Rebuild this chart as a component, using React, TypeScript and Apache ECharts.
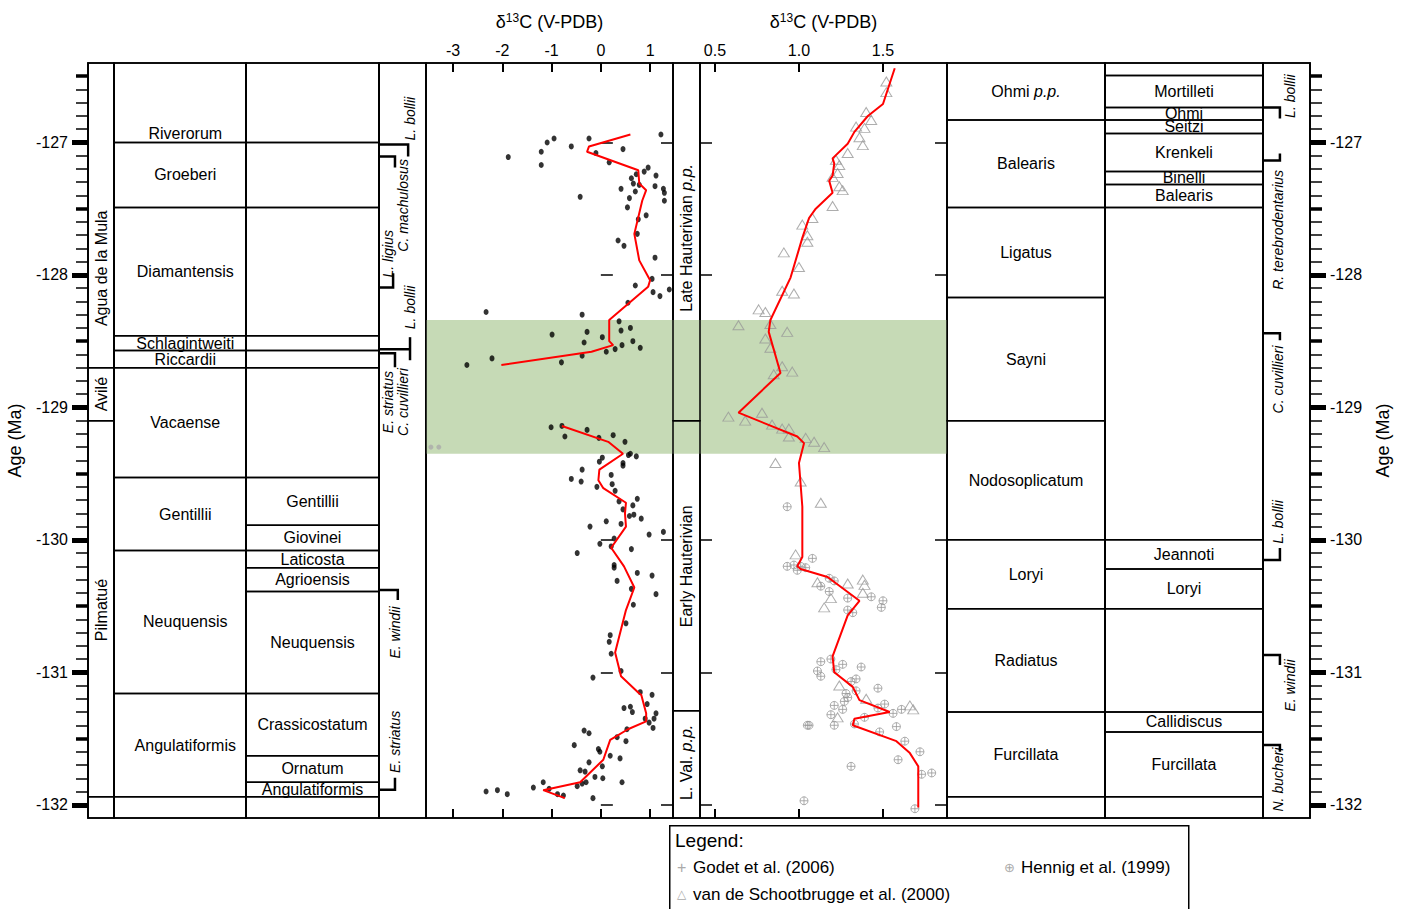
import { useEffect, useRef } from "react";
import * as echarts from "echarts";

const AGE_MIN = -132.1;
const AGE_MAX = -126.4;
const FONT = "Liberation Sans, Arial, sans-serif";

// columns: [left px, right px]
const COLS: Record<string, [number, number]> = {
  A: [88, 114],
  B: [114, 246],
  C: [246, 379],
  D: [379, 426],
  P1: [426, 673],
  S: [673, 700],
  P2: [700, 947],
  E: [947, 1105],
  F: [1105, 1263],
  G: [1263, 1310]
};
const COL_KEYS = ["A", "B", "C", "D", "P1", "S", "P2", "E", "F", "G"];

const ageTicks = [-132, -131, -130, -129, -128, -127];
const halfAgeTicks = [-131.5, -130.5, -129.5, -128.5, -127.5, -126.5];
const d13cTicks1 = [-3, -2, -1, 0, 1];
const d13cTicks2 = [0.5, 1.0, 1.5];
const greenBand: [number, number] = [-128.34, -129.35];

type Box = { top: number; bottom: number; label?: string; labelAge?: number; rotate?: boolean };

const formations: Box[] = [
  { top: -126.4, bottom: -128.7, label: "Agua de la Mula", labelAge: -127.95, rotate: true },
  { top: -128.7, bottom: -129.1, label: "Avilé", rotate: true },
  { top: -129.1, bottom: -131.94, label: "Pilmatué", labelAge: -130.53, rotate: true },
  { top: -131.94, bottom: -132.1 }
];
const zonesLeft: Box[] = [
  { top: -126.4, bottom: -127.0, label: "Riverorum", labelAge: -126.93 },
  { top: -127.0, bottom: -127.49, label: "Groeberi" },
  { top: -127.49, bottom: -128.46, label: "Diamantensis" },
  { top: -128.46, bottom: -128.57, label: "Schlagintweiti" },
  { top: -128.57, bottom: -128.7, label: "Riccardii" },
  { top: -128.7, bottom: -129.53, label: "Vacaense" },
  { top: -129.53, bottom: -130.08, label: "Gentillii" },
  { top: -130.08, bottom: -131.16, label: "Neuquensis" },
  { top: -131.16, bottom: -131.94, label: "Angulatiformis" },
  { top: -131.94, bottom: -132.1 }
];
const subzonesLeft: Box[] = [
  { top: -126.4, bottom: -127.0 },
  { top: -127.0, bottom: -127.49 },
  { top: -127.49, bottom: -128.46 },
  { top: -128.46, bottom: -128.57 },
  { top: -128.57, bottom: -128.7 },
  { top: -128.7, bottom: -129.53 },
  { top: -129.53, bottom: -129.89, label: "Gentillii" },
  { top: -129.89, bottom: -130.08, label: "Giovinei" },
  { top: -130.08, bottom: -130.21, label: "Laticosta" },
  { top: -130.21, bottom: -130.39, label: "Agrioensis" },
  { top: -130.39, bottom: -131.16, label: "Neuquensis" },
  { top: -131.16, bottom: -131.63, label: "Crassicostatum" },
  { top: -131.63, bottom: -131.83, label: "Ornatum" },
  { top: -131.83, bottom: -131.94, label: "Angulatiformis" },
  { top: -131.94, bottom: -132.1 }
];
const stages: Box[] = [
  { top: -126.4, bottom: -129.1, label: "Late Hauterivian {i|p.p.}", labelAge: -127.72, rotate: true },
  { top: -129.1, bottom: -131.29, label: "Early Hauterivian", labelAge: -130.2, rotate: true },
  { top: -131.29, bottom: -132.1, label: "L. Val. {i|p.p.}", labelAge: -131.68, rotate: true }
];
const zonesRight: Box[] = [
  { top: -126.4, bottom: -126.83, label: "Ohmi {i|p.p.}" },
  { top: -126.83, bottom: -127.49, label: "Balearis" },
  { top: -127.49, bottom: -128.17, label: "Ligatus" },
  { top: -128.17, bottom: -129.1, label: "Sayni" },
  { top: -129.1, bottom: -130.0, label: "Nodosoplicatum" },
  { top: -130.0, bottom: -130.52, label: "Loryi" },
  { top: -130.52, bottom: -131.3, label: "Radiatus" },
  { top: -131.3, bottom: -131.94, label: "Furcillata" },
  { top: -131.94, bottom: -132.1 }
];
const subzonesRight: Box[] = [
  { top: -126.4, bottom: -126.495 },
  { top: -126.495, bottom: -126.736, label: "Mortilleti" },
  { top: -126.736, bottom: -126.83, label: "Ohmi" },
  { top: -126.83, bottom: -126.932, label: "Seitzi" },
  { top: -126.932, bottom: -127.219, label: "Krenkeli" },
  { top: -127.219, bottom: -127.317, label: "Binelli" },
  { top: -127.317, bottom: -127.49, label: "Balearis" },
  { top: -127.49, bottom: -130.0 },
  { top: -130.0, bottom: -130.22, label: "Jeannoti" },
  { top: -130.22, bottom: -130.52, label: "Loryi" },
  { top: -130.52, bottom: -131.3 },
  { top: -131.3, bottom: -131.45, label: "Callidiscus" },
  { top: -131.45, bottom: -131.94, label: "Furcillata" },
  { top: -131.94, bottom: -132.1 }
];
const emptyColD: Box[] = [{ top: -126.4, bottom: -132.1 }];

// [text, xFrac, age]
const ammoniteLabels: [string, number, number][] = [
  ["L. bollii", 0.66, -126.82],
  ["C. machulosus", 0.51, -127.475],
  ["L. ligius", 0.19, -127.84],
  ["L. bollii", 0.66, -128.245],
  ["E. striatus", 0.19, -128.96],
  ["C. cuvillieri", 0.51, -128.96],
  ["E. windii", 0.34, -130.7],
  ["E. striatus", 0.34, -131.525]
];
const ammoniteBrackets: [number, number][][] = [
  [[0, -127.015], [0.62, -127.015], [0.62, -127.106]],
  [[0, -127.106], [0.34, -127.106], [0.34, -127.189]],
  [[0.3, -127.988], [0.3, -128.094], [0, -128.094]],
  [[0, -128.561], [0.66, -128.561]],
  [[0.66, -128.47], [0.66, -128.644]],
  [[0, -128.591], [0.34, -128.591], [0.34, -128.697]],
  [[0, -130.379], [0.4, -130.379], [0.4, -130.454]],
  [[0.34, -131.796], [0.34, -131.887], [0, -131.887]]
];
const nannoLabels: [string, number, number][] = [
  ["L. bollii", 0.57, -126.65],
  ["R. terebrodentarius", 0.32, -127.66],
  ["C. cuvillieri", 0.32, -128.79],
  ["L. bollii", 0.32, -129.865],
  ["E. windii", 0.57, -131.1],
  ["N. bucheri", 0.32, -131.81]
];
const nannoBrackets: [number, number][][] = [
  [[0, -126.736], [0.36, -126.736], [0.36, -126.819]],
  [[0.36, -127.083], [0.36, -127.136], [0, -127.136]],
  [[0, -128.44], [0.36, -128.44], [0.36, -128.493]],
  [[0.36, -130.062], [0.36, -130.152], [0, -130.152]],
  [[0, -130.869], [0.36, -130.869], [0.36, -130.944]],
  [[0, -131.548], [0.36, -131.548], [0.36, -131.6]]
];

// δ13C bulk carbonate [δ13C, age]
const bulkPoints: [number, number][] = [
  [1.22, -126.94], [-0.24, -126.97], [-0.95, -126.97], [-1.09, -127.0], [-0.6, -127.03], [0.45, -127.05],
  [-1.21, -127.07], [-0.1, -127.08], [-1.88, -127.11], [0.17, -127.15], [-1.21, -127.17], [0.96, -127.19],
  [0.88, -127.22], [0.72, -127.24], [1.12, -127.25], [0.62, -127.27], [0.66, -127.31], [0.78, -127.32],
  [1.1, -127.33], [1.27, -127.35], [0.41, -127.35], [0.7, -127.37], [1.29, -127.38], [-0.42, -127.41],
  [0.58, -127.42], [1.29, -127.44], [0.54, -127.49], [0.92, -127.55], [0.76, -127.58], [0.74, -127.69],
  [0.35, -127.74], [0.47, -127.78], [1.1, -127.87], [1.04, -128.03], [0.7, -128.08], [1.39, -128.11],
  [1.06, -128.13], [1.2, -128.16], [0.55, -128.21], [-2.33, -128.28], [-0.38, -128.3], [0.37, -128.35],
  [0.41, -128.42], [0.6, -128.4], [-0.99, -128.45], [-0.28, -128.43], [0.03, -128.47], [-0.34, -128.51],
  [0.65, -128.5], [0.43, -128.53], [0.8, -128.55], [0.29, -128.56], [0.11, -128.58], [-2.21, -128.63],
  [-0.38, -128.61], [-2.72, -128.68], [-0.8, -128.66],
  [-1.01, -129.15], [-0.79, -129.14], [-0.73, -129.22], [-0.28, -129.17], [-0.04, -129.23], [0.25, -129.21],
  [0.49, -129.26], [0.6, -129.35], [0.72, -129.37], [0.56, -129.36], [0.03, -129.38], [-0.03, -129.41],
  [0.45, -129.42], [0.45, -129.44], [-0.38, -129.47], [0.21, -129.51], [-0.6, -129.54], [-0.4, -129.56],
  [0.23, -129.58], [-0.08, -129.6], [0.29, -129.63], [0.74, -129.69], [0.37, -129.71], [0.65, -129.74],
  [0.45, -129.77], [0.67, -129.81], [0.58, -129.82], [0.82, -129.84], [0.11, -129.86], [0.41, -129.88],
  [-0.22, -129.9], [1.27, -129.94], [0.98, -129.96], [0.27, -129.99], [-0.02, -130.03], [0.21, -130.05],
  [0.62, -130.07], [-0.48, -130.1], [0.27, -130.19], [0.27, -130.21], [0.74, -130.25], [1.04, -130.27],
  [0.33, -130.31], [0.62, -130.37], [1.12, -130.41], [0.66, -130.49], [0.51, -130.63], [0.19, -130.72],
  [0.17, -130.77], [0.21, -130.86], [0.41, -130.99], [-0.16, -131.04], [0.8, -131.15], [1.04, -131.17],
  [0.47, -131.27], [0.6, -131.26], [0.64, -131.3], [1.12, -131.31], [0.94, -131.24], [1.08, -131.35],
  [0.9, -131.35], [0.98, -131.38], [1.06, -131.42], [0.53, -131.43], [-0.34, -131.44], [-0.24, -131.46],
  [0.33, -131.49], [0.51, -131.52], [-0.54, -131.55], [-0.05, -131.58], [-0.02, -131.6], [0.19, -131.63],
  [0.39, -131.65], [-0.24, -131.68], [0.03, -131.71], [-0.42, -131.74], [-0.32, -131.75], [-0.12, -131.79],
  [0.04, -131.8], [-1.17, -131.83], [-0.3, -131.83], [-0.38, -131.84], [-0.48, -131.86], [0.43, -131.83],
  [-1.37, -131.87], [-1.05, -131.88], [-2.33, -131.9], [-2.1, -131.89], [-1.9, -131.92], [-0.88, -131.92],
  [-0.76, -131.93], [-0.16, -131.95]
];
const greyBulkPoints: [number, number][] = [[-3.45, -129.3], [-3.29, -129.3]];
const bulkTrendUpper: [number, number][] = [
  [0.6, -126.94], [-0.24, -127.03], [-0.28, -127.07], [0.76, -127.21], [0.78, -127.31], [0.92, -127.36],
  [0.84, -127.44], [0.68, -127.69], [0.78, -127.89], [1.0, -128.04], [0.96, -128.09], [0.17, -128.34],
  [0.17, -128.5], [0.25, -128.53], [-0.19, -128.58], [-2.02, -128.68]
];
const bulkTrendLower: [number, number][] = [
  [-0.79, -129.14], [0.15, -129.26], [0.45, -129.35], [-0.03, -129.47], [-0.05, -129.55], [0.05, -129.61],
  [0.51, -129.72], [0.49, -129.8], [0.51, -129.9], [0.21, -130.06], [0.47, -130.2], [0.68, -130.36],
  [0.51, -130.53], [0.29, -130.85], [0.41, -131.03], [0.78, -131.16], [0.82, -131.17], [0.92, -131.31],
  [0.92, -131.37], [0.55, -131.43], [0.19, -131.51], [0.05, -131.66], [-0.42, -131.83], [-1.17, -131.89],
  [-0.73, -131.95]
];

// belemnite δ13C
const schootbruggePoints: [number, number][] = [
  [1.52, -126.54], [1.52, -126.62], [1.4, -126.77], [1.43, -126.83], [1.34, -126.88], [1.39, -126.89],
  [1.36, -126.96], [1.38, -127.02], [1.29, -127.08], [1.22, -127.13], [1.24, -127.17], [1.23, -127.23],
  [1.2, -127.26], [1.24, -127.33], [1.26, -127.36], [1.2, -127.48], [1.08, -127.57], [1.02, -127.62],
  [1.05, -127.7], [1.05, -127.75], [0.91, -127.83], [1.0, -127.94], [0.9, -128.12], [0.97, -128.14],
  [0.76, -128.26], [0.8, -128.28], [0.64, -128.38], [0.83, -128.37], [0.93, -128.43], [0.8, -128.48],
  [0.83, -128.55], [0.9, -128.69], [0.96, -128.73], [0.85, -128.75], [0.78, -129.04], [0.58, -129.07],
  [0.68, -129.1], [0.84, -129.13], [0.9, -129.16], [0.94, -129.16], [0.94, -129.22], [1.04, -129.23],
  [1.09, -129.26], [1.15, -129.3], [0.86, -129.42], [1.01, -129.56], [1.13, -129.72], [0.98, -130.11],
  [1.11, -130.32], [1.29, -130.33], [1.38, -130.3], [1.39, -130.34], [1.38, -130.4], [1.19, -130.44],
  [1.15, -130.51], [1.24, -131.1], [1.4, -131.2], [1.66, -131.25], [1.68, -131.28], [1.23, -131.34]
];
const hennigPoints: [number, number][] = [
  [0.93, -129.75], [1.08, -130.14], [0.93, -130.2], [0.97, -130.19], [1.01, -130.2], [1.04, -130.21],
  [0.99, -130.23], [1.18, -130.29], [1.21, -130.31], [1.13, -130.35], [1.18, -130.39], [1.29, -130.44],
  [1.43, -130.43], [1.5, -130.46], [1.49, -130.51], [1.29, -130.53], [1.32, -130.55], [1.13, -130.92],
  [1.19, -130.9], [1.26, -130.94], [1.37, -130.96], [1.11, -130.99], [1.13, -131.03], [1.22, -130.98],
  [1.34, -131.05], [1.31, -131.07], [1.28, -131.16], [1.34, -131.14], [1.47, -131.12], [1.29, -131.19],
  [1.27, -131.22], [1.21, -131.25], [1.26, -131.28], [1.51, -131.24], [1.47, -131.27], [1.56, -131.31],
  [1.61, -131.28], [1.19, -131.32], [1.39, -131.34], [1.33, -131.39], [1.05, -131.4], [1.06, -131.4],
  [1.21, -131.4], [1.48, -131.45], [1.58, -131.41], [1.63, -131.52], [1.72, -131.6], [1.59, -131.66],
  [1.31, -131.71], [1.73, -131.77], [1.79, -131.76], [1.03, -131.97], [1.69, -132.03]
];
const belemniteTrend: [number, number][] = [
  [1.57, -126.44], [1.5, -126.71], [1.41, -126.8], [1.33, -126.92], [1.29, -127.01], [1.2, -127.12],
  [1.21, -127.16], [1.2, -127.25], [1.18, -127.29], [1.2, -127.38], [1.1, -127.5], [1.06, -127.57],
  [1.02, -127.72], [0.95, -128.02], [0.83, -128.34], [0.82, -128.43], [0.89, -128.74], [0.64, -129.04],
  [0.99, -129.22], [1.03, -129.27], [1.0, -129.42], [1.02, -129.75], [1.02, -130.13], [0.99, -130.2],
  [1.01, -130.22], [1.17, -130.28], [1.36, -130.46], [1.29, -130.57], [1.2, -130.88], [1.21, -131.0],
  [1.32, -131.11], [1.36, -131.21], [1.54, -131.3], [1.33, -131.35], [1.32, -131.4], [1.58, -131.52],
  [1.66, -131.61], [1.71, -131.71], [1.71, -132.02]
];

const CIRCLE_PLUS = "path://M10,1A9,9 0 1,1 9.99,1Z M1,10L19,10 M10,1L10,19";

export default function App() {
  const ref = useRef<HTMLDivElement | null>(null);

  useEffect(() => {
    if (!ref.current) return;
    const chart = echarts.init(ref.current, null, { renderer: "svg" });

    const grids = COL_KEYS.map((k) => ({
      left: COLS[k][0],
      width: COLS[k][1] - COLS[k][0],
      top: 63,
      height: 755,
      show: true,
      borderColor: "#000",
      borderWidth: 1.5,
      backgroundColor: "transparent"
    }));
    const gi = (k: string) => COL_KEYS.indexOf(k);

    const xAxes: any[] = [];
    const yAxes: any[] = [];
    const xIdx: Record<string, number> = {};
    const yIdx: Record<string, number> = {};

    const axisName = "{a|δ}{b|13}{a|C (V-PDB)}";
    const nameStyle = {
      rich: {
        a: { fontSize: 18, fontFamily: FONT, color: "#000" },
        b: { fontSize: 12, fontFamily: FONT, color: "#000", padding: [0, 0, 8, 0] }
      }
    };

    COL_KEYS.forEach((k) => {
      const g = gi(k);
      if (k === "P1" || k === "P2") {
        const min = k === "P1" ? -3.55 : 0.411;
        const max = k === "P1" ? 1.465 : 1.881;
        const ticks = k === "P1" ? d13cTicks1 : d13cTicks2;
        xIdx[k] = xAxes.length;
        xAxes.push({
          gridIndex: g, type: "value", position: "top", min, max,
          name: axisName, nameLocation: "middle", nameGap: 31, nameTextStyle: nameStyle,
          axisLine: { lineStyle: { color: "#000", width: 1.5 } },
          axisTick: { inside: true, length: 9, customValues: ticks, lineStyle: { color: "#000", width: 2 } },
          axisLabel: {
            customValues: ticks, margin: 5, fontSize: 16, fontFamily: FONT, color: "#000",
            formatter: (v: number) => (k === "P2" ? v.toFixed(1) : String(v))
          },
          splitLine: { show: false }
        });
        xAxes.push({
          gridIndex: g, type: "value", position: "bottom", min, max,
          axisLine: { lineStyle: { color: "#000", width: 1.5 } },
          axisTick: { inside: true, length: 9, customValues: ticks, lineStyle: { color: "#000", width: 2 } },
          axisLabel: { show: false },
          splitLine: { show: false }
        });
      } else {
        xIdx[k] = xAxes.length;
        xAxes.push({ gridIndex: g, type: "value", min: 0, max: 1, show: false });
      }
      yIdx[k] = yAxes.length;
      yAxes.push({ gridIndex: g, type: "value", min: AGE_MIN, max: AGE_MAX, show: false });
      if (k === "P1" || k === "P2") {
        ["left", "right"].forEach((pos) =>
          yAxes.push({
            gridIndex: g, type: "value", min: AGE_MIN, max: AGE_MAX, position: pos,
            axisLine: { show: false },
            axisTick: { inside: true, length: 12, customValues: ageTicks, lineStyle: { color: "#000", width: 1.5 } },
            axisLabel: { show: false },
            splitLine: { show: false }
          })
        );
      }
    });

    const tenths: number[] = [];
    for (let i = -1320; i <= -1265; i++) tenths.push(i / 10);

    const ageScale = (k: string, pos: "left" | "right") => {
      const g = gi(k);
      const base = { gridIndex: g, type: "value", min: AGE_MIN, max: AGE_MAX, position: pos, splitLine: { show: false } };
      yAxes.push({
        ...base,
        axisLine: { show: true, lineStyle: { color: "#000", width: 1.5 } },
        axisTick: { inside: false, length: 12, customValues: tenths, lineStyle: { color: "#000", width: 1.5 } },
        axisLabel: { show: false }
      });
      yAxes.push({
        ...base,
        axisLine: { show: false },
        axisTick: { inside: false, length: 12, customValues: halfAgeTicks, lineStyle: { color: "#000", width: 3.5 } },
        axisLabel: { show: false }
      });
      yAxes.push({
        ...base,
        name: "Age (Ma)", nameLocation: "middle", nameRotate: 90, nameGap: 64,
        nameTextStyle: { fontSize: 18, fontFamily: FONT, color: "#000" },
        axisLine: { show: false },
        axisTick: { inside: false, length: 16, customValues: ageTicks, lineStyle: { color: "#000", width: 5 } },
        axisLabel: { customValues: ageTicks, margin: 20, fontSize: 16, fontFamily: FONT, color: "#000" }
      });
    };
    ageScale("A", "left");
    ageScale("G", "right");

    const band = {
      silent: true,
      itemStyle: { color: "#c6dab6" },
      data: [[{ yAxis: greenBand[0] }, { yAxis: greenBand[1] }]]
    };

    const boxSeries = (k: string, boxes: Box[], withBand = false, labelX = 0.5): any => ({
      type: "custom",
      xAxisIndex: xIdx[k],
      yAxisIndex: yIdx[k],
      data: boxes.map((b) => [b.top, b.bottom]),
      markArea: withBand ? band : undefined,
      renderItem: (params: any, api: any) => {
        const b = boxes[params.dataIndex];
        const p0 = api.coord([0, b.top]);
        const p1 = api.coord([1, b.bottom]);
        const children: any[] = [
          {
            type: "rect",
            shape: { x: p0[0], y: p0[1], width: p1[0] - p0[0], height: p1[1] - p0[1] },
            style: { fill: "none", stroke: "#000", lineWidth: 1.5 }
          }
        ];
        if (b.label) {
          const c = api.coord([labelX, b.labelAge ?? (b.top + b.bottom) / 2]);
          children.push({
            type: "text",
            x: c[0],
            y: c[1],
            rotation: b.rotate ? Math.PI / 2 : 0,
            style: {
              text: b.label,
              fill: "#000",
              fontSize: 16,
              fontFamily: FONT,
              align: "center",
              verticalAlign: "middle",
              rich: { i: { fontStyle: "italic", fontSize: 16, fontFamily: FONT, fill: "#000" } }
            }
          });
        }
        return { type: "group", children };
      }
    });

    const labelSeries = (k: string, labels: [string, number, number][]): any => ({
      type: "custom",
      xAxisIndex: xIdx[k],
      yAxisIndex: yIdx[k],
      data: labels.map((l) => [l[1], l[2]]),
      renderItem: (params: any, api: any) => {
        const l = labels[params.dataIndex];
        const c = api.coord([l[1], l[2]]);
        return {
          type: "text",
          x: c[0],
          y: c[1],
          rotation: Math.PI / 2,
          style: {
            text: l[0], fill: "#000", fontSize: 14, fontStyle: "italic", fontFamily: FONT,
            align: "center", verticalAlign: "middle"
          }
        };
      }
    });

    const bracketSeries = (k: string, lines: [number, number][][]): any => ({
      type: "custom",
      xAxisIndex: xIdx[k],
      yAxisIndex: yIdx[k],
      data: lines.map((l) => l[0]),
      renderItem: (params: any, api: any) => ({
        type: "polyline",
        shape: { points: lines[params.dataIndex].map((p) => api.coord(p)) },
        style: { stroke: "#000", lineWidth: 2.5, fill: "none" }
      })
    });

    const series: any[] = [
      boxSeries("A", formations),
      boxSeries("B", zonesLeft, false, 0.54),
      boxSeries("C", subzonesLeft),
      boxSeries("D", emptyColD),
      labelSeries("D", ammoniteLabels),
      bracketSeries("D", ammoniteBrackets),
      boxSeries("S", stages, true),
      boxSeries("E", zonesRight),
      boxSeries("F", subzonesRight),
      boxSeries("G", [{ top: AGE_MIN, bottom: AGE_MAX }]),
      labelSeries("G", nannoLabels),
      bracketSeries("G", nannoBrackets),
      {
        type: "scatter", xAxisIndex: xIdx.P1, yAxisIndex: yIdx.P1, data: bulkPoints,
        symbol: "circle", symbolSize: [5, 6], itemStyle: { color: "#000" }, markArea: band, z: 3
      },
      {
        type: "scatter", xAxisIndex: xIdx.P1, yAxisIndex: yIdx.P1, data: greyBulkPoints,
        symbol: "circle", symbolSize: 5, itemStyle: { color: "#aaa" }
      },
      {
        type: "line", xAxisIndex: xIdx.P1, yAxisIndex: yIdx.P1, data: bulkTrendUpper, showSymbol: false,
        lineStyle: { color: "#f00", width: 2 }, z: 4
      },
      {
        type: "line", xAxisIndex: xIdx.P1, yAxisIndex: yIdx.P1, data: bulkTrendLower, showSymbol: false,
        lineStyle: { color: "#f00", width: 2 }, z: 4
      },
      {
        type: "scatter", xAxisIndex: xIdx.P2, yAxisIndex: yIdx.P2, data: schootbruggePoints,
        symbol: "triangle", symbolSize: [11, 9],
        itemStyle: { color: "transparent", borderColor: "#999", borderWidth: 1 }, markArea: band, z: 3
      },
      {
        type: "scatter", xAxisIndex: xIdx.P2, yAxisIndex: yIdx.P2, data: hennigPoints,
        symbol: CIRCLE_PLUS, symbolSize: 8,
        itemStyle: { color: "transparent", borderColor: "#999", borderWidth: 1 }, z: 3
      },
      {
        type: "line", xAxisIndex: xIdx.P2, yAxisIndex: yIdx.P2, data: belemniteTrend, showSymbol: false,
        lineStyle: { color: "#f00", width: 2 }, z: 4
      }
    ];

    chart.setOption({
      animation: false,
      backgroundColor: "#fff",
      grid: grids,
      xAxis: xAxes,
      yAxis: yAxes,
      series,
      graphic: [
        {
          type: "rect", left: 669, top: 825,
          shape: { width: 519, height: 100 },
          style: { fill: "#fff", stroke: "#000", lineWidth: 1.5 }
        },
        { type: "text", left: 675, top: 831, style: { text: "Legend:", fontSize: 19, fontFamily: FONT, fill: "#000" } },
        { type: "text", left: 677, top: 859, style: { text: "+", fontSize: 16, fontFamily: FONT, fill: "#aaa" } },
        { type: "text", left: 693, top: 859, style: { text: "Godet et al. (2006)", fontSize: 17, fontFamily: FONT, fill: "#000" } },
        { type: "text", left: 1004, top: 861, style: { text: "⊕", fontSize: 13, fontFamily: "DejaVu Sans", fill: "#aaa" } },
        { type: "text", left: 1021, top: 859, style: { text: "Hennig et al. (1999)", fontSize: 17, fontFamily: FONT, fill: "#000" } },
        { type: "text", left: 677, top: 888, style: { text: "△", fontSize: 12, fontFamily: "DejaVu Sans", fill: "#aaa" } },
        { type: "text", left: 693, top: 886, style: { text: "van de Schootbrugge et al. (2000)", fontSize: 17, fontFamily: FONT, fill: "#000" } }
      ]
    });

    return () => chart.dispose();
  }, []);

  return (
    <div
      ref={ref}
      style={{ position: "absolute", left: 0, top: 0, width: 1401, height: 909, background: "#fff" }}
    />
  );
}
